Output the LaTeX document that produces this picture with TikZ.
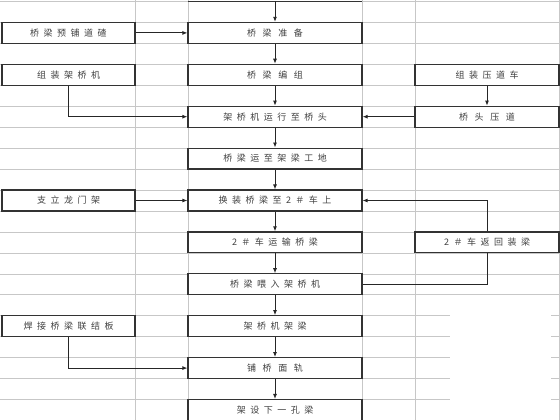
\documentclass[tikz,border=0pt]{standalone}
\usepackage{fontspec}
\newfontfamily\cjk[LetterSpace=50]{Noto Sans CJK SC}
\usetikzlibrary{arrows.meta}

\begin{document}
\begin{tikzpicture}[x=1pt, y=-1pt,
    grid/.style={color=black!22, line width=0.7pt},
    box/.style={draw=black!80, line width=1.2pt, fill=white, inner sep=0pt, minimum height=20.95pt, text=black!75, font=\cjk\fontsize{9}{9}\selectfont},
    midbox/.style={box, minimum width=174pt},
    leftbox/.style={box, minimum width=133pt},
    rightbox/.style={box, minimum width=144pt},
    flow/.style={color=black!85, line width=0.9pt, -{Latex[length=5pt, width=4pt]}},
    link/.style={color=black!85, line width=0.9pt}]
    \useasboundingbox (0,0) rectangle (560,420);
    %%% Sheet grid
    \foreach \k in {0,...,19} \draw[grid] (0,{1.5+20.95*\k}) -- (560,{1.5+20.95*\k});
    \foreach \x in {135,188,362,415,559} \draw[grid] (\x,0) -- (\x,420);
    \fill[white] (450,302) rectangle (551,420);
    %
    %%% Main column
    \draw[color=black!80, line width=1.2pt] (188,1.5) -- (362,1.5); % previous step
    \coordinate (prev) at (275,1.5);
    \node[midbox] (c1) at (275,32.9) {桥 梁 准 备};
    \node[midbox] (c2) at (275,74.8) {桥 梁 编 组};
    \node[midbox] (c3) at (275,116.7) {架桥机运行至桥头};
    \node[midbox] (c4) at (275,158.6) {桥梁运至架梁工地};
    \node[midbox] (c5) at (275,200.5) {换装桥梁至2＃车上};
    \node[midbox] (c6) at (275,242.4) {2＃车运输桥梁};
    \node[midbox] (c7) at (275,284.3) {桥梁喂入架桥机};
    \node[midbox] (c8) at (275,326.2) {架桥机架梁};
    \node[midbox] (c9) at (275,368.1) {铺 桥 面 轨};
    \node[midbox] (c10) at (275,410.0) {架设下一孔梁};
    %
    %%% Side jobs
    \node[leftbox] (l1) at (68.5,32.9) {桥梁预铺道碴};
    \node[leftbox] (l2) at (68.5,74.8) {组装架桥机};
    \node[leftbox] (l3) at (68.5,200.5) {支立龙门架};
    \node[leftbox] (l4) at (68.5,326.2) {焊接桥梁联结板};
    \node[rightbox] (r1) at (487,74.8) {组装压道车};
    \node[rightbox] (r2) at (487,116.7) {桥 头 压 道};
    \node[rightbox] (r3) at (487,242.4) {2＃车返回装梁};
    %
    %%% Connectors
    \draw[flow] (prev) -- (c1);
    \foreach \a/\b in {c1/c2, c2/c3, c3/c4, c4/c5, c5/c6, c6/c7, c7/c8, c8/c9, c9/c10}
        \draw[flow] (\a) -- (\b);
    \draw[flow] (l1) -- (c1);
    \draw[flow] (l2.south) |- (c3.west);
    \draw[flow] (l3) -- (c5);
    \draw[flow] (l4.south) |- (c9.west);
    \draw[flow] (r1) -- (r2);
    \draw[flow] (r2) -- (c3);
    \draw[flow] (r3.north) |- (c5.east);
    \draw[link] (c7.east) -| (r3.south);
\end{tikzpicture}
\end{document}
